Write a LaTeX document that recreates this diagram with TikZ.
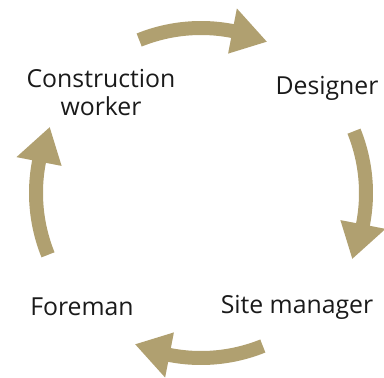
\documentclass[tikz,border=0pt]{standalone}
\usepackage{fontspec}
\setmainfont{Open Sans}
\usetikzlibrary{calc}
\definecolor{khaki}{RGB}{176,160,112}
\definecolor{ink}{RGB}{26,26,26}
\tikzset{
  role/.style={font=\fontsize{24.8}{28}\selectfont, text=ink, align=center, inner sep=0pt},
  shaft/.style={draw=khaki, line width=14pt},
  head/.style={fill=khaki},
}
\newcommand{\cyclearrow}[1]{%
  \draw[shaft] ($(c)+(#1+22:165)$) arc[start angle=#1+22, end angle=#1-12, radius=165];
  \fill[head] ($(c)+(#1-11:188)$) -- ($(c)+(#1-23.5:165)$) -- ($(c)+(#1-11:142)$) -- cycle;
}
\begin{document}
\begin{tikzpicture}[x=1pt,y=1pt]
\useasboundingbox (0,0) rectangle (384,-378);
\coordinate (c) at (201,-193);
\node[role] (cw) at (101,-93) {Construction\\worker};
\node[role] (des) at (327,-88) {Designer};
\node[role] (sm) at (297,-307) {Site manager};
\node[role] (fm) at (82,-307) {Foreman};
\cyclearrow{90}
\cyclearrow{0}
\cyclearrow{-90}
\cyclearrow{180}
\end{tikzpicture}
\end{document}
